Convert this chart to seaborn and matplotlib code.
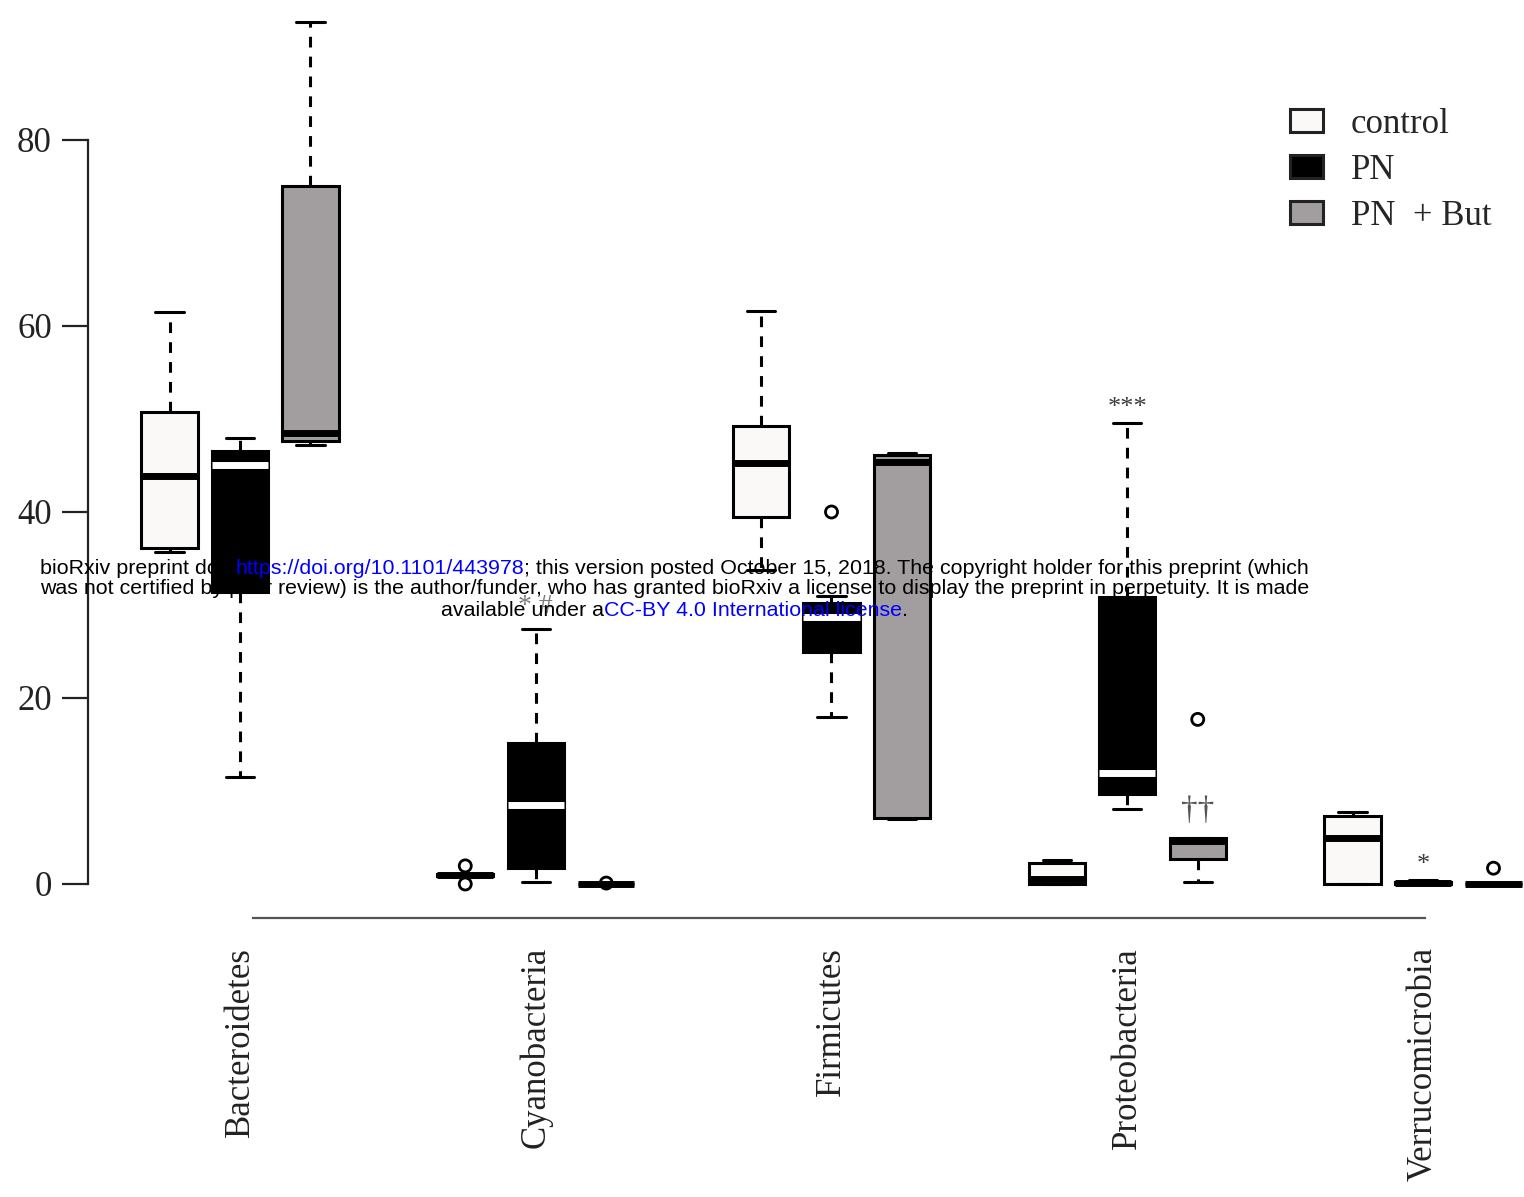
import numpy as np
import pandas as pd
import matplotlib
matplotlib.use("Agg")
import matplotlib.pyplot as plt
import seaborn as sns
from matplotlib.patches import Patch

# ---- data -------------------------------------------------------------
phyla = ["Bacteroidetes", "Cyanobacteria", "Firmicutes", "Proteobacteria", "Verrucomicrobia"]
groups = ["control", "PN", "PN  + But"]

# five-number summaries per phylum: lower whisker, Q1, median, Q3, upper whisker
control_stats = [
    [35.7, 36.1, 43.9, 50.7, 61.5],
    [0.8, 0.85, 0.95, 1.05, 1.1],
    [33.8, 39.5, 45.3, 49.2, 61.6],
    [0.0, 0.0, 0.5, 2.3, 2.6],
    [0.0, 0.0, 4.9, 7.3, 7.7],
]
pn_stats = [
    [11.5, 31.4, 45.0, 46.6, 48.0],
    [0.2, 1.7, 8.5, 15.2, 27.4],
    [18.0, 25.0, 28.7, 30.2, 31.0],
    [8.1, 9.7, 11.9, 30.9, 49.6],
    [0.0, 0.0, 0.1, 0.25, 0.45],
]
pnbut_stats = [
    [47.2, 47.6, 48.5, 75.1, 92.7],
    [0.0, 0.0, 0.0, 0.05, 0.08],
    [7.0, 7.1, 45.4, 46.1, 46.3],
    [0.2, 2.7, 4.6, 4.9, 4.9],
    [0.0, 0.0, 0.0, 0.05, 0.1],
]

# outlying samples
outlier_phylum = ["Cyanobacteria", "Cyanobacteria", "Cyanobacteria", "Firmicutes",
                  "Proteobacteria", "Verrucomicrobia"]
outlier_group = ["control", "control", "PN  + But", "PN", "PN  + But", "PN  + But"]
outlier_value = [1.95, 0.0, 0.1, 40.0, 17.7, 1.7]

# significance marks
sig_phylum = ["Cyanobacteria", "Proteobacteria", "Proteobacteria", "Verrucomicrobia"]
sig_group = ["PN", "PN", "PN  + But", "PN"]
sig_label = ["* #", "***", "\u2020\u2020", "*"]

yticks = [0, 20, 40, 60, 80]

# ---- long table --------------------------------------------------------
rows = []
for g, stats in zip(groups, [control_stats, pn_stats, pnbut_stats]):
    for p, s in zip(phyla, stats):
        for v in s:
            rows.append({"phylum": p, "group": g, "abundance": v})
df = pd.DataFrame(rows)
stats_by = {(p, g): s for g, st in zip(groups, [control_stats, pn_stats, pnbut_stats])
            for p, s in zip(phyla, st)}

# ---- figure ------------------------------------------------------------
sns.set_theme(style="white")
plt.rcParams["font.family"] = ["Liberation Serif", "DejaVu Serif"]

W, H = 1524, 1197
fig = plt.figure(figsize=(W / 100, H / 100), dpi=100)
ax = fig.add_axes([0, 0, 1, 1])
ax.set_facecolor("white")

palette = {"control": "#fbf8f8", "PN": "#000000", "PN  + But": "#a29d9e"}
BOX_W = 0.715
LW = 2.2

sns.boxplot(
    data=df, x="phylum", y="abundance", hue="group",
    order=phyla, hue_order=groups, palette=palette, saturation=1,
    width=BOX_W, gap=0.2, whis=(0, 100), showfliers=False,
    linewidth=LW, linecolor="black", legend=False, ax=ax,
    whiskerprops=dict(linestyle=(0, (3.5, 3))),
    medianprops=dict(linewidth=5, solid_capstyle="butt"),
)

# white medians on the black boxes (too-flat boxes stay solid black)
for cont, g in zip(ax.containers, groups):
    if g == "PN":
        for m, p in zip(cont.medians, phyla):
            s = stats_by[(p, g)]
            if s[3] - s[1] > 1.0:
                m.set_color("white")

# outliers at the dodged box positions
step = BOX_W / len(groups)
ox = [phyla.index(p) + (groups.index(g) - 1) * step
      for p, g in zip(outlier_phylum, outlier_group)]
sns.scatterplot(x=ox, y=outlier_value, marker="o", s=75, facecolors="none",
                edgecolor="black", linewidth=2.0, ax=ax, zorder=5)

# significance marks above the upper whiskers
sig_size = {"***": 19, "*": 19, "* #": 20, "\u2020\u2020": 24}
sig_color = {"***": "#3a3a3a", "*": "#3a3a3a", "* #": "#7a7a7a", "\u2020\u2020": "#555555"}
sig_off = {"***": 3, "*": 3, "* #": 7, "\u2020\u2020": 9}
for p, g, lab in zip(sig_phylum, sig_group, sig_label):
    xpos = phyla.index(p) + (groups.index(g) - 1) * step
    ytop = max(stats_by[(p, g)])
    ax.annotate(lab, xy=(xpos, ytop), xytext=(0, sig_off[lab]), textcoords="offset points",
                ha="center", va="bottom", fontsize=sig_size[lab], color=sig_color[lab])

# ---- axes styling ------------------------------------------------------
x0_px, dx_px = 240.0, 295.75
y0_px, dy_px = 884.0, 9.3
ax.set_xlim(-x0_px / dx_px, (W - x0_px) / dx_px)
ax.set_ylim((y0_px - H) / dy_px, y0_px / dy_px)
ax.set_xlabel("")
ax.set_ylabel("")

for side in ["top", "right"]:
    ax.spines[side].set_visible(False)
ax.spines["left"].set_position(("data", (88 - x0_px) / dx_px))
ax.spines["left"].set_bounds(0, 80)
ax.spines["left"].set_linewidth(1.6)
ax.spines["left"].set_color("#222222")
ax.spines["bottom"].set_position(("data", (y0_px - 918) / dy_px))
ax.spines["bottom"].set_bounds((253 - x0_px) / dx_px, (1425 - x0_px) / dx_px)
ax.spines["bottom"].set_linewidth(1.6)
ax.spines["bottom"].set_color("#555555")

ax.set_yticks(yticks)
ax.set_yticklabels([str(t) for t in yticks])
ax.tick_params(axis="y", direction="out", length=19, width=1.6, color="#222222",
               pad=7, labelsize=25, labelcolor="#222222", left=True)
ax.set_xticks(range(len(phyla)))
ax.set_xticklabels(phyla, rotation=90)
ax.tick_params(axis="x", length=0, pad=21, labelsize=25, labelcolor="#222222")
for t in ax.get_xticklabels():
    t.set_va("top")

# ---- legend ------------------------------------------------------------
handles = [Patch(facecolor=palette[g], edgecolor="#222222", linewidth=2.2) for g in groups]
ax.legend(handles, groups, loc="upper left", bbox_to_anchor=(1290 / W, 1 - 108 / H),
          bbox_transform=fig.transFigure, frameon=False, fontsize=25,
          handlelength=0.95, handleheight=0.63, handletextpad=0.8,
          labelspacing=0.37, borderpad=0, borderaxespad=0)

# ---- preprint notice ---------------------------------------------------
notice = [
    [("bioRxiv preprint doi: ", "black"), ("https://doi.org/10.1101/443978", "blue"),
     ("; this version posted October 15, 2018. The copyright holder for this preprint (which", "black")],
    [("was not certified by peer review) is the author/funder, who has granted bioRxiv a "
      "license to display the preprint in perpetuity. It is made", "black")],
    [("available under a", "black"), ("CC-BY 4.0 International license", "blue"), (".", "black")],
]
notice_y = [568, 589, 610]
renderer = fig.canvas.get_renderer()
nfont = "Liberation Sans"


def text_width(s, fs):
    t = fig.text(0, 0, s, fontsize=fs, family=nfont)
    w = t.get_window_extent(renderer).width
    t.remove()
    return w


def seg_widths(line, fs):
    sp = text_width("a a", fs) - text_width("aa", fs)
    out = []
    for s, _ in line:
        core = s.rstrip(" ")
        out.append(text_width(core, fs) + sp * (len(s) - len(core)))
    return out


fs = 15.0
fs *= 1267.0 / sum(seg_widths(notice[0], fs))
cx = 674.5
for line, ypx in zip(notice, notice_y):
    ws = seg_widths(line, fs)
    x = cx - sum(ws) / 2
    for (s, c), w in zip(line, ws):
        fig.text(x / W, 1 - ypx / H, s.rstrip(" "), fontsize=fs, family=nfont,
                 color=c, ha="left", va="center", zorder=10)
        x += w

fig.savefig("out.png", dpi=100)
